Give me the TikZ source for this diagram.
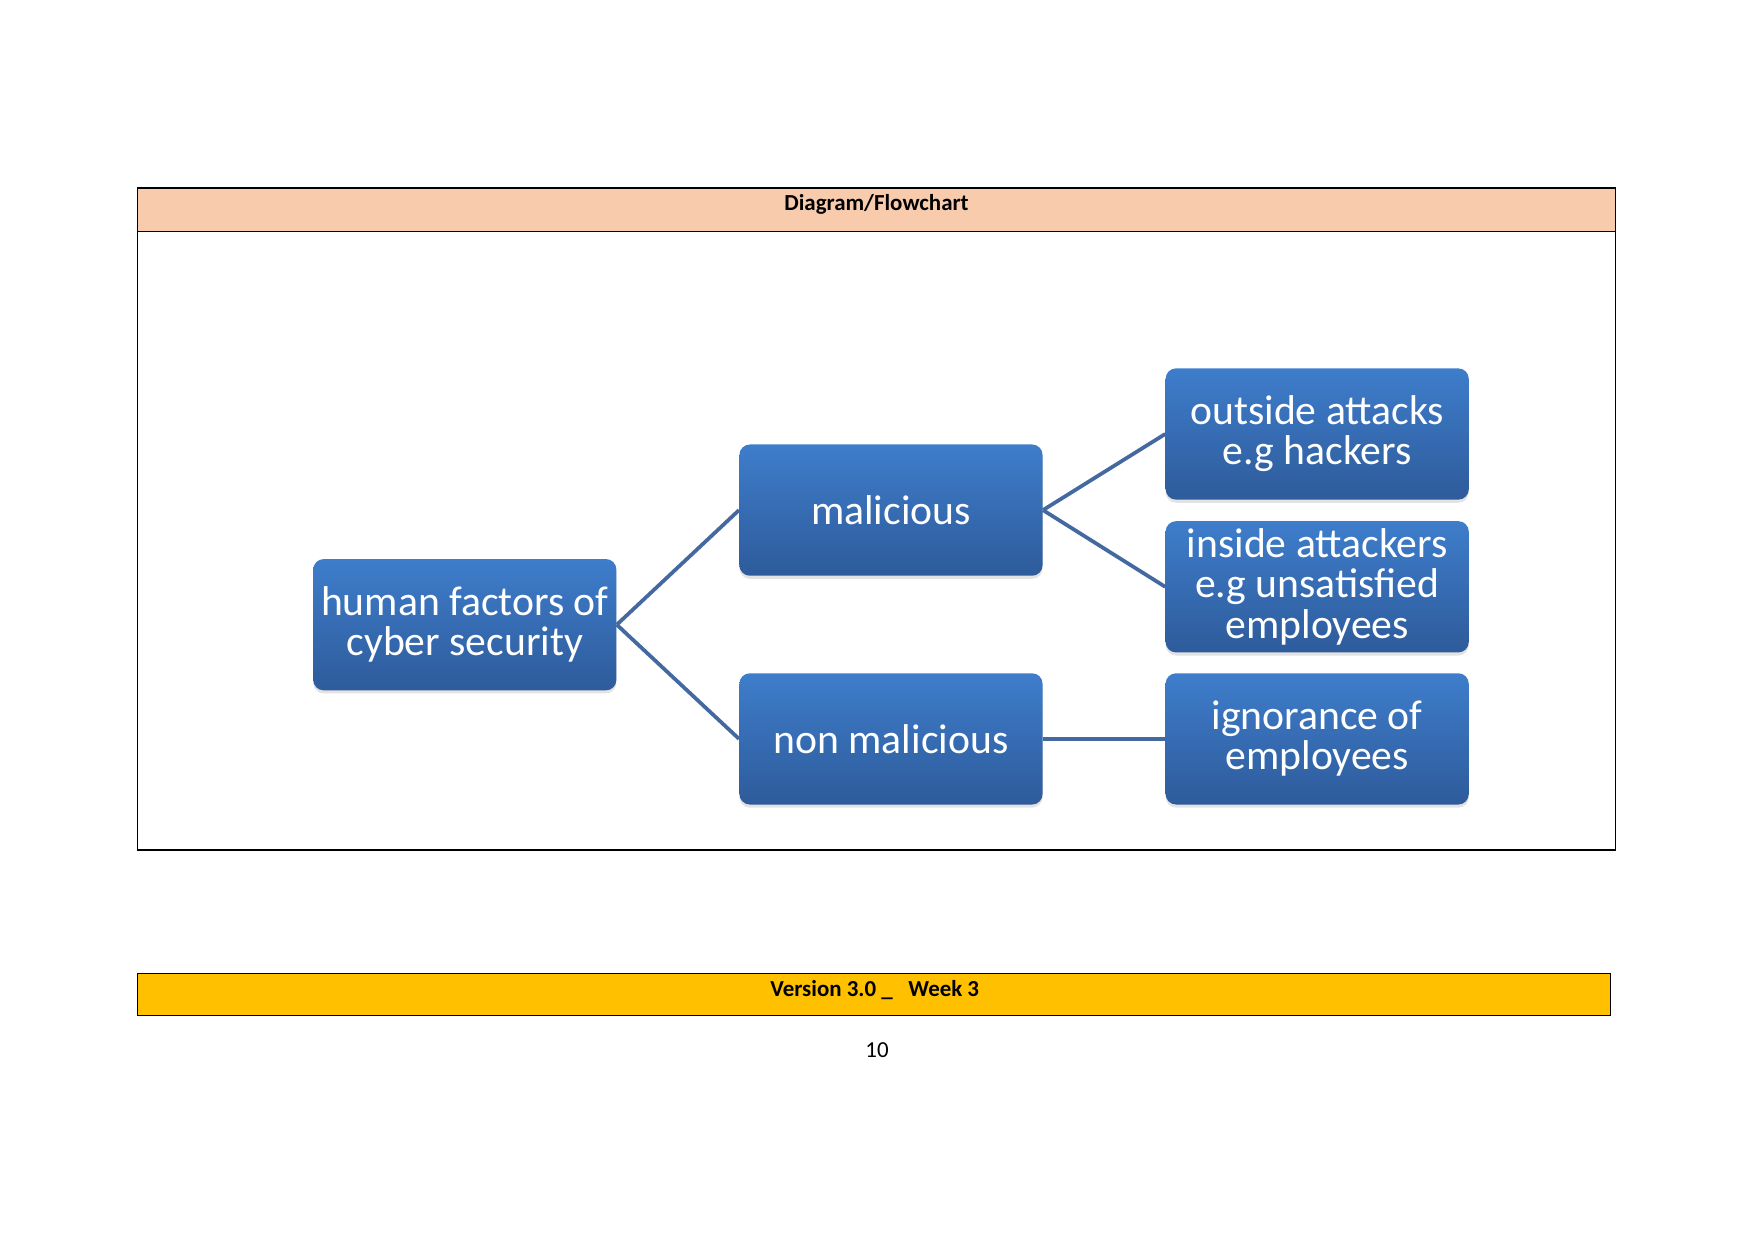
\documentclass[tikz,border=0pt]{standalone}
\usepackage{fontspec}
\setmainfont{Carlito}
\usetikzlibrary{shadows}

\definecolor{hdrpeach}{HTML}{F8CBAD}
\definecolor{ftramber}{HTML}{FFC000}
\definecolor{boxtop}{HTML}{3E7DCB}
\definecolor{boxbot}{HTML}{2E5B9B}
\definecolor{linkblue}{HTML}{4469A0}

\begin{document}
\begin{tikzpicture}[x=0.48pt,y=0.48pt]

\tikzset{
  box/.style     = {rounded corners=5pt, minimum width=145.5pt, minimum height=63pt,
                    inner sep=2pt, align=center, text=white,
                    font=\fontsize{20}{19.3}\selectfont,
                    top color=boxtop, bottom color=boxbot,
                    drop shadow={opacity=0.22, shadow xshift=0pt, shadow yshift=-1.5pt}},
  link/.style    = {draw=linkblue, line width=1.8pt},
  bar/.style     = {draw=black, line width=0.6pt},
  bartext/.style = {font=\fontsize{11}{13}\selectfont\bfseries, inner sep=0pt},
}

\useasboundingbox (0,0) rectangle (1754,-1241);
\fill[white] (0,0) rectangle (1754,-1241);

% frame and header
\draw[bar] (137.6,-187.9) rectangle (1615.3,-850.1);
\filldraw[bar, fill=hdrpeach] (137.6,-187.9) rectangle (1615.3,-231.5);
\node[bartext] (hdr) at (876.5,-204.5) {Diagram/Flowchart};

% boxes
\node[box] (hum)    at (464.8,-624.7)  {human factors of\\cyber security};
\node[box] (mal)    at (891.0,-510.1)  {malicious};
\node[box] (nonmal) at (891.0,-738.9)  {non malicious};
\node[box] (out)    at (1317.2,-434.0) {outside attacks\\e.g hackers};
\node[box] (ins)    at (1317.2,-586.8) {inside attackers\\e.g unsatisfied\\employees};
\node[box] (ign)    at (1317.2,-738.9) {ignorance of\\employees};

% connectors
\draw[link] (hum.east) -- (mal.west);
\draw[link] (hum.east) -- (nonmal.west);
\draw[link] (mal.east) -- (out.west);
\draw[link] (mal.east) -- (ins.west);
\draw[link] (nonmal.east) -- (ign.west);

% footer
\filldraw[bar, fill=ftramber] (137.6,-973.2) rectangle (1610.8,-1015.7);
\node[bartext] (ver) at (874.8,-989.7) {Version 3.0 \_\ \ \ Week 3};
\node[font=\fontsize{11}{13}\selectfont, inner sep=0pt] (pg) at (877,-1050) {10};
\end{tikzpicture}
\end{document}
